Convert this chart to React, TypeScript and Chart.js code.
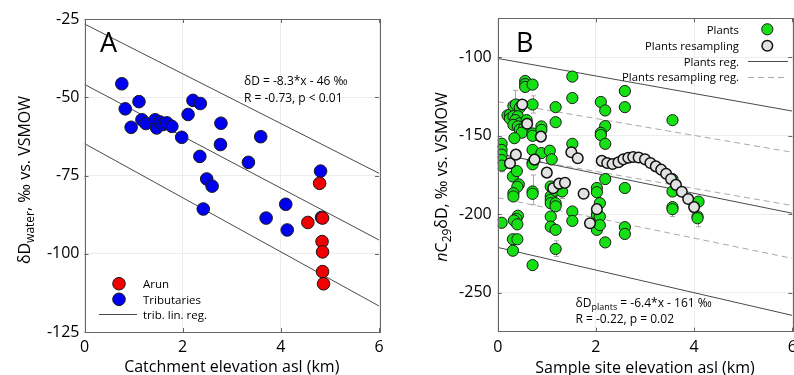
import React, { useEffect, useRef } from "react";
import { Chart, registerables } from "chart.js";
Chart.register(...registerables);

const FONT = "'Open Sans', 'DejaVu Sans', sans-serif";

// ---------------- Panel A data ----------------
const aXTicks = [0, 2, 4, 6];
const aYTicks = [-125, -100, -75, -50, -25];
const aArunX = [4.79, 4.55, 4.85, 4.84, 4.85, 4.85, 4.87];
const aArunY = [-77.5, -90.0, -88.6, -96.1, -99.4, -105.7, -109.6];
const aTribX = [0.76, 0.83, 0.95, 1.11, 1.17, 1.25, 1.44, 1.47, 1.54, 1.6, 1.68, 1.78, 1.98, 2.11, 2.21, 2.36, 2.35, 2.78, 2.77, 2.49, 2.6, 2.42, 3.34, 3.59, 3.7, 4.1, 4.13, 4.81, 4.83];
const aTribY = [-45.7, -53.7, -59.6, -51.4, -57.2, -58.4, -57.2, -59.8, -57.9, -58.7, -58.2, -59.3, -62.8, -55.5, -51.0, -52.0, -68.9, -58.3, -65.1, -76.1, -78.4, -85.7, -70.8, -62.6, -88.6, -84.2, -92.4, -73.6, -88.4];
const aRegX = [0, 6];
const aRegMid = [-45.9, -95.6];
const aRegUpper = [-26.6, -74.3];
const aRegLower = [-64.8, -116.7];

// ---------------- Panel B data ----------------
const bXTicks = [0, 2, 4, 6];
const bYTicks = [-250, -200, -150, -100];
const bPlantsX = [
  0.08, 0.08, 0.08, 0.08, 0.08, 0.08,
  0.2, 0.25, 0.25, 0.32, 0.37, 0.45, 0.32, 0.41, 0.36, 0.45, 0.32, 0.41, 0.45, 0.54, 0.49, 0.34, 0.59,
  0.31, 0.39, 0.43, 0.4, 0.32, 0.32, 0.41, 0.38, 0.33, 0.4, 0.31, 0.4, 0.31,
  0.56, 0.56, 0.56, 0.71, 0.71, 0.71, 0.71, 0.71, 0.71, 0.71, 0.71, 0.71, 0.71,
  0.89, 0.89, 0.89,
  1.06, 1.1, 1.18, 1.18, 1.08, 1.08, 1.08, 1.08, 1.18, 1.18, 1.18, 1.08, 1.08, 1.18, 1.18, 1.31,
  1.52, 1.52, 1.52, 1.52, 1.52,
  2.02, 2.02, 2.08, 2.02, 2.08, 2.02, 2.08, 2.1, 2.19, 2.19, 2.1, 2.1, 2.19, 2.19, 2.19,
  2.59, 2.59, 2.59, 2.59, 2.59,
  3.56, 3.56, 3.56, 3.56, 3.56,
  4.09, 4.07, 4.07,
];
const bPlantsY = [
  -155, -159, -162, -165.5, -169, -205.5,
  -137, -136.5, -139, -131, -130, -132, -137.5, -137.5, -140, -142, -143, -144, -146, -145, -148, -151.5, -140,
  -176, -172.5, -181, -182.5, -186.6, -188.7, -201, -203, -204, -206.5, -216, -216, -223.3,
  -115, -117, -118.8, -117.3, -130, -148.5, -150, -159, -167, -168.2, -185.5, -187, -232.5,
  -144, -146.2, -161,
  -159.5, -165, -131.7, -141.3, -182.3, -188.5, -190.8, -193, -185, -193, -195, -201.5, -208, -210, -222.2, -185.5,
  -112.2, -125.9, -155.1, -198.3, -204.3,
  -183.3, -186, -193, -200.4, -201.5, -210, -207, -128.4, -133.8, -143.8, -148.1, -149.5, -155.1, -177.6, -218,
  -121.4, -131.7, -183.3, -208.3, -212.6,
  -140, -177.6, -185.5, -195.5, -196.8,
  -192, -201.5, -202.6,
];
const bResX = [0.25, 0.37, 0.5, 0.6, 0.75, 0.88, 1.0, 1.13, 1.25, 1.37, 1.5, 1.63, 1.75, 1.88, 2.02,
  2.12, 2.23, 2.34, 2.46, 2.56, 2.66, 2.76, 2.87, 3.0, 3.11, 3.22, 3.33, 3.43, 3.53, 3.63, 3.75, 3.88, 4.0];
const bResY = [-167.5, -162, -130, -142.3, -165.2, -150.5, -173.5, -183.5, -180.5, -180, -160.5, -164.3, -187, -205.8, -196.8,
  -166, -167.3, -168, -166.9, -165, -164, -163.5, -163.8, -165, -167.3, -169.5, -171.6, -174.2, -177.6, -181.3, -185.7, -190.3, -195.5];
const bErrX = [0.08, 0.35, 0.71, 0.71, 1.18, 1.31, 3.56, 4.07];
const bErrLow = [-173, -137, -135.5, -194, -227, -190, -201.5, -208];
const bErrHigh = [-160, -121, -124.5, -175, -217, -183, -192.5, -199];
const bRegX = [0, 6];
const bPlantsUpper = [-100.6, -134.2];
const bPlantsMid = [-161.3, -199.4];
const bPlantsLower = [-221.2, -264.6];
const bResUpper = [-128.2, -160.5];
const bResMid = [-161.8, -194.5];
const bResLower = [-189.5, -228.2];

const zip = (xs: number[], ys: number[]) => xs.map((x, i) => ({ x, y: ys[i] }));

type Part = { t: string; size: number; dy?: number; italic?: boolean };

function drawRich(ctx: CanvasRenderingContext2D, parts: Part[], x: number, y: number, align: "left" | "center" | "right") {
  const widths = parts.map((p) => {
    ctx.font = `${p.italic ? "italic " : ""}${p.size}px ${FONT}`;
    return ctx.measureText(p.t).width;
  });
  const total = widths.reduce((a, b) => a + b, 0);
  let cx = align === "left" ? x : align === "center" ? x - total / 2 : x - total;
  ctx.textAlign = "left";
  ctx.textBaseline = "alphabetic";
  parts.forEach((p, i) => {
    ctx.font = `${p.italic ? "italic " : ""}${p.size}px ${FONT}`;
    ctx.fillText(p.t, cx, y + (p.dy || 0));
    cx += widths[i];
  });
}

function drawFrame(chart: any, xTicks: number[], yTicks: number[]) {
  const ctx = chart.ctx as CanvasRenderingContext2D;
  const { left, right, top, bottom } = chart.chartArea;
  const xs = chart.scales.x;
  const ys = chart.scales.y;
  ctx.save();
  ctx.strokeStyle = "#666";
  ctx.lineWidth = 1;
  ctx.beginPath();
  xTicks.forEach((v) => {
    const p = Math.round(xs.getPixelForValue(v)) + 0.5;
    ctx.moveTo(p, bottom); ctx.lineTo(p, bottom - 4);
    ctx.moveTo(p, top); ctx.lineTo(p, top + 4);
  });
  yTicks.forEach((v) => {
    const p = Math.round(ys.getPixelForValue(v)) + 0.5;
    ctx.moveTo(left, p); ctx.lineTo(left + 4, p);
    ctx.moveTo(right, p); ctx.lineTo(right - 4, p);
  });
  ctx.stroke();
  ctx.strokeRect(Math.round(left) + 0.5, Math.round(top) + 0.5, Math.round(right - left), Math.round(bottom - top));
  ctx.restore();
}

function makeScales(xmin: number, xmax: number, xTicks: number[], ymin: number, ymax: number, yTicks: number[], yWidth: number, xHeight: number, yPad: number) {
  const tickFont = { family: FONT, size: 16 };
  return {
    x: {
      type: "linear",
      min: xmin,
      max: xmax,
      afterBuildTicks: (s: any) => { s.ticks = xTicks.map((v) => ({ value: v })); },
      afterFit: (s: any) => { s.height = xHeight; s.paddingLeft = 0; s.paddingRight = 0; },
      grid: { color: "#ececec", drawTicks: false },
      border: { display: false },
      ticks: { color: "#000", font: tickFont, padding: 6, maxRotation: 0, autoSkip: false },
    },
    y: {
      type: "linear",
      min: ymin,
      max: ymax,
      afterBuildTicks: (s: any) => { s.ticks = yTicks.map((v) => ({ value: v })); },
      afterFit: (s: any) => { s.width = yWidth; s.paddingTop = 0; s.paddingBottom = 0; },
      grid: { color: "#ececec", drawTicks: false },
      border: { display: false },
      ticks: { color: "#000", font: tickFont, padding: yPad, autoSkip: false },
    },
  };
}

function lineDs(xs: number[], ys: number[], color: string, dash: number[]) {
  return {
    data: zip(xs, ys),
    showLine: true,
    borderColor: color,
    borderWidth: 1,
    borderDash: dash,
    pointRadius: 0,
    fill: false,
    order: 5,
  };
}

function configA(): any {
  const decor = {
    id: "decorA",
    afterDraw(chart: any) {
      const ctx = chart.ctx as CanvasRenderingContext2D;
      const { left, right } = chart.chartArea;
      drawFrame(chart, aXTicks, aYTicks);
      ctx.save();
      ctx.fillStyle = "#000";
      // panel letter
      drawRich(ctx, [{ t: "A", size: 27 }], 100, 52, "left");
      // equation
      drawRich(ctx, [{ t: "δD = -8.3*x - 46 ‰", size: 12 }], 244, 85, "left");
      drawRich(ctx, [{ t: "R = -0.73, p < 0.01", size: 12 }], 244, 101.5, "left");
      // legend
      ctx.lineWidth = 1;
      ctx.strokeStyle = "#1a1a1a";
      [["#f00000", 283.7], ["#0000f0", 299.3]].forEach(([c, y]) => {
        ctx.beginPath();
        ctx.arc(119, y as number, 6.3, 0, Math.PI * 2);
        ctx.fillStyle = c as string;
        ctx.fill();
        ctx.stroke();
      });
      ctx.strokeStyle = "#4a4a4a";
      ctx.beginPath();
      ctx.moveTo(99, 314.5); ctx.lineTo(137, 314.5);
      ctx.stroke();
      ctx.fillStyle = "#000";
      drawRich(ctx, [{ t: "Arun", size: 11.5 }], 143, 288, "left");
      drawRich(ctx, [{ t: "Tributaries", size: 11.5 }], 143, 303.5, "left");
      drawRich(ctx, [{ t: "trib. lin. reg.", size: 11.5 }], 143, 318.5, "left");
      // x title
      drawRich(ctx, [{ t: "Catchment elevation asl (km)", size: 16 }], (left + right) / 2, 372, "center");
      // y title
      ctx.translate(30, 180);
      ctx.rotate(-Math.PI / 2);
      drawRich(ctx, [
        { t: "δD", size: 16 },
        { t: "water", size: 12, dy: 4 },
        { t: ", ‰ vs. VSMOW", size: 16 },
      ], 0, 0, "center");
      ctx.restore();
    },
  };
  return {
    type: "scatter",
    data: {
      datasets: [
        { data: zip(aArunX, aArunY), backgroundColor: "#f00000", borderColor: "#1a1a1a", borderWidth: 1, pointRadius: 6.3, order: 0 },
        { data: zip(aTribX, aTribY), backgroundColor: "#0000f0", borderColor: "#1a1a1a", borderWidth: 1, pointRadius: 6.3, order: 1 },
        lineDs(aRegX, aRegMid, "#4a4a4a", []),
        lineDs(aRegX, aRegUpper, "#4a4a4a", []),
        lineDs(aRegX, aRegLower, "#4a4a4a", []),
      ],
    },
    options: {
      responsive: false,
      animation: false,
      devicePixelRatio: 1,
      events: [],
      layout: { padding: { left: 0, right: 18, top: 19, bottom: 0 } },
      plugins: { legend: { display: false }, tooltip: { enabled: false } },
      scales: makeScales(0, 6, aXTicks, -125, -25, aYTicks, 84.5, 43, 5),
    },
    plugins: [decor],
  };
}

function configB(): any {
  const errPlugin = {
    id: "errB",
    beforeDatasetsDraw(chart: any) {
      const ctx = chart.ctx as CanvasRenderingContext2D;
      const xs = chart.scales.x;
      const ys = chart.scales.y;
      ctx.save();
      ctx.strokeStyle = "#a8a8a8";
      ctx.lineWidth = 1;
      ctx.beginPath();
      bErrX.forEach((xv, i) => {
        const px = Math.round(xs.getPixelForValue(xv)) + 0.5;
        const y1 = ys.getPixelForValue(bErrLow[i]);
        const y2 = ys.getPixelForValue(bErrHigh[i]);
        ctx.moveTo(px, y1); ctx.lineTo(px, y2);
        ctx.moveTo(px - 2.5, y1); ctx.lineTo(px + 2.5, y1);
        ctx.moveTo(px - 2.5, y2); ctx.lineTo(px + 2.5, y2);
      });
      ctx.stroke();
      ctx.restore();
    },
  };
  const decor = {
    id: "decorB",
    afterDraw(chart: any) {
      const ctx = chart.ctx as CanvasRenderingContext2D;
      const { left, right } = chart.chartArea;
      drawFrame(chart, bXTicks, bYTicks);
      ctx.save();
      ctx.fillStyle = "#000";
      drawRich(ctx, [{ t: "B", size: 27 }], 119, 52, "left");
      // equation
      drawRich(ctx, [
        { t: "δD", size: 12 },
        { t: "plants", size: 9, dy: 3 },
        { t: " = -6.4*x - 161 ‰", size: 12 },
      ], 178.5, 307, "left");
      drawRich(ctx, [{ t: "R = -0.22, p = 0.02", size: 12 }], 178.5, 322.5, "left");
      // legend
      const lx = 342;
      const ls = 11.3;
      drawRich(ctx, [{ t: "Plants", size: ls }], lx, 33.5, "right");
      drawRich(ctx, [{ t: "Plants resampling", size: ls }], lx, 50, "right");
      drawRich(ctx, [{ t: "Plants reg.", size: ls }], lx, 65.5, "right");
      drawRich(ctx, [{ t: "Plants resampling reg.", size: ls }], lx, 81, "right");
      ctx.lineWidth = 1;
      ctx.strokeStyle = "#1a1a1a";
      ctx.beginPath();
      ctx.arc(370.3, 29.3, 5.6, 0, Math.PI * 2);
      ctx.fillStyle = "#14e014";
      ctx.fill();
      ctx.stroke();
      ctx.lineWidth = 1.5;
      ctx.strokeStyle = "#111";
      ctx.beginPath();
      ctx.arc(370.3, 45.7, 5.3, 0, Math.PI * 2);
      ctx.fillStyle = "#e2e2e2";
      ctx.fill();
      ctx.stroke();
      ctx.lineWidth = 1;
      ctx.strokeStyle = "#4a4a4a";
      ctx.beginPath();
      ctx.moveTo(351, 61.5); ctx.lineTo(391, 61.5);
      ctx.stroke();
      ctx.strokeStyle = "#a8a8a8";
      ctx.setLineDash([6, 4]);
      ctx.beginPath();
      ctx.moveTo(351, 77.5); ctx.lineTo(391, 77.5);
      ctx.stroke();
      ctx.setLineDash([]);
      ctx.fillStyle = "#000";
      // x title
      drawRich(ctx, [{ t: "Sample site elevation asl (km)", size: 16 }], (left + right) / 2, 373, "center");
      // y title
      ctx.translate(50, 177);
      ctx.rotate(-Math.PI / 2);
      drawRich(ctx, [
        { t: "n", size: 16, italic: true },
        { t: "C", size: 16 },
        { t: "29", size: 12, dy: 4 },
        { t: "δD, ‰ vs. VSMOW", size: 16 },
      ], 0, 0, "center");
      ctx.restore();
    },
  };
  return {
    type: "scatter",
    data: {
      datasets: [
        { data: zip(bResX, bResY), backgroundColor: "#e2e2e2", borderColor: "#111", borderWidth: 1.5, pointRadius: 5.3, order: 0 },
        { data: zip(bPlantsX, bPlantsY), backgroundColor: "#14e014", borderColor: "#1a1a1a", borderWidth: 1, pointRadius: 5.6, order: 1 },
        lineDs(bRegX, bPlantsUpper, "#4a4a4a", []),
        lineDs(bRegX, bPlantsMid, "#4a4a4a", []),
        lineDs(bRegX, bPlantsLower, "#4a4a4a", []),
        lineDs(bRegX, bResUpper, "#a8a8a8", [6, 4]),
        lineDs(bRegX, bResMid, "#a8a8a8", [6, 4]),
        lineDs(bRegX, bResLower, "#a8a8a8", [6, 4]),
      ],
    },
    options: {
      responsive: false,
      animation: false,
      devicePixelRatio: 1,
      events: [],
      layout: { padding: { left: 0, right: 14.7, top: 18.3, bottom: 0 } },
      plugins: { legend: { display: false }, tooltip: { enabled: false } },
      scales: makeScales(0, 6, bXTicks, -275, -75, bYTicks, 100.7, 43.3, 6),
    },
    plugins: [errPlugin, decor],
  };
}

function ChartCanvas({ make, left, width }: { make: () => any; left: number; width: number }) {
  const ref = useRef<HTMLCanvasElement>(null);
  useEffect(() => {
    const chart = new Chart(ref.current as HTMLCanvasElement, make());
    return () => chart.destroy();
  }, []);
  return (
    <canvas
      ref={ref}
      width={width}
      height={375}
      style={{ position: "absolute", left, top: 0, width, height: 375, display: "block" }}
    />
  );
}

export default function App() {
  return (
    <div style={{ position: "fixed", left: 0, top: 0, width: 794, height: 375, background: "#fff", overflow: "hidden" }}>
      <ChartCanvas make={configA} left={0} width={397} />
      <ChartCanvas make={configB} left={397} width={410} />
    </div>
  );
}
